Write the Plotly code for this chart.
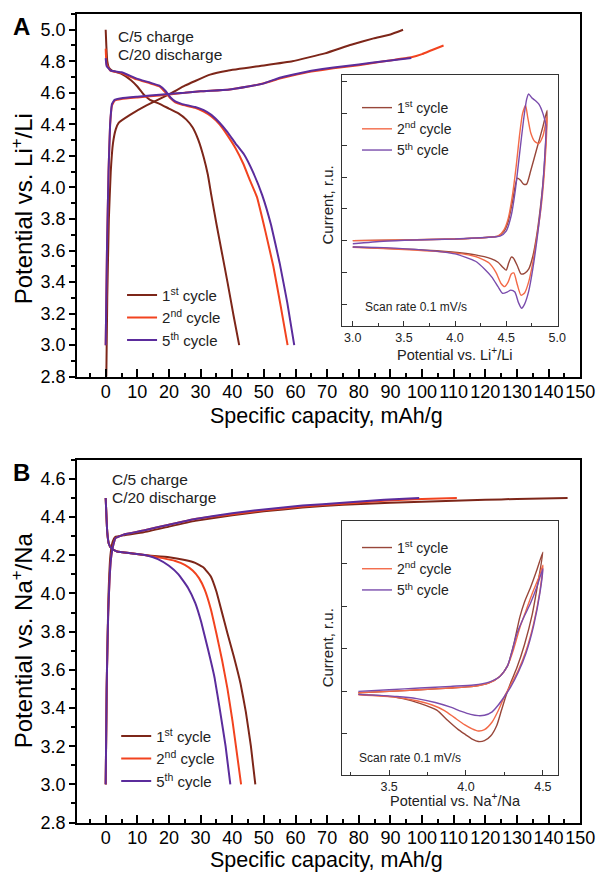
import plotly.graph_objects as go

# the page body has an 8px margin; the figure starts at (8, 8)
OFF = 8
W, H = 612 - 2 * OFF, 882 - OFF

# ---------------- Panel A (Li) galvanostatic data ----------------
li_c1_chg_x = [0.2, 0.5, 1.0, 1.6, 2.3, 3.2, 4.1, 7.7, 12.9, 20, 25, 28.3, 33, 38.5, 48.8, 59, 69.3, 77.6, 84.7, 90, 94]
li_c1_chg_y = [2.8, 3.3, 3.8, 4.1, 4.28, 4.37, 4.41, 4.46, 4.52, 4.59, 4.645, 4.675, 4.715, 4.74, 4.77, 4.80, 4.85, 4.905, 4.945, 4.97, 5.0]
li_c1_dis_x = [0, 0.2, 0.5, 1, 2, 5, 8, 10, 12, 14, 17, 20, 23, 25.5, 27.5, 29.3, 31, 32.3, 33.4, 35, 36.8, 38.5, 40.4, 42.2]
li_c1_dis_y = [5.0, 4.9, 4.8, 4.76, 4.74, 4.72, 4.68, 4.64, 4.59, 4.555, 4.53, 4.50, 4.47, 4.43, 4.38, 4.30, 4.19, 4.08, 3.95, 3.77, 3.58, 3.40, 3.19, 3.0]

li_c2_chg_x = [0, 0.4, 0.9, 1.4, 2.0, 2.8, 5, 10, 18, 25, 30, 38.6, 45, 50, 55, 59, 65, 72, 80, 88, 96.6, 100, 103, 106.8]
li_c2_chg_y = [3.0, 3.6, 4.1, 4.4, 4.52, 4.55, 4.56, 4.57, 4.585, 4.60, 4.61, 4.62, 4.64, 4.66, 4.69, 4.71, 4.735, 4.755, 4.775, 4.80, 4.825, 4.845, 4.87, 4.90]
li_c2_dis_x = [0, 0.3, 1.5, 5, 9.8, 14, 17, 19, 20.5, 22, 24, 28.3, 31, 33.4, 36, 38.5, 41, 43.5, 45.5, 47.8, 50.5, 53, 55.3, 57.5]
li_c2_dis_y = [4.88, 4.78, 4.74, 4.725, 4.685, 4.66, 4.64, 4.60, 4.565, 4.54, 4.525, 4.505, 4.48, 4.45, 4.40, 4.33, 4.25, 4.15, 4.05, 3.94, 3.72, 3.50, 3.25, 3.0]

li_c5_chg_x = [0, 0.4, 0.9, 1.4, 2.0, 2.8, 5, 10, 18, 25, 30, 38.6, 45, 50, 55, 59, 65, 72, 80, 88, 96.6]
li_c5_chg_y = [3.0, 3.6, 4.1, 4.4, 4.53, 4.555, 4.565, 4.575, 4.59, 4.60, 4.61, 4.62, 4.64, 4.66, 4.695, 4.715, 4.74, 4.76, 4.78, 4.80, 4.82]
li_c5_dis_x = [0, 0.3, 1.6, 5, 9.8, 14, 17, 19, 20.5, 22, 24, 28.3, 31, 33.4, 36, 38.5, 41, 43.7, 46.5, 49.5, 52.3, 55, 57.4, 59.6]
li_c5_dis_y = [4.82, 4.77, 4.74, 4.73, 4.69, 4.665, 4.645, 4.61, 4.57, 4.545, 4.53, 4.51, 4.49, 4.46, 4.41, 4.35, 4.28, 4.21, 4.10, 3.95, 3.76, 3.52, 3.27, 3.0]

# ---------------- Panel A inset: CV vs Li ----------------
li_cv1_v = [3.0, 3.5, 4.0, 4.3, 4.42, 4.48, 4.52, 4.56, 4.59, 4.61, 4.64, 4.67, 4.70, 4.74, 4.80, 4.86, 4.90,
            4.89, 4.87, 4.84, 4.80, 4.76, 4.72, 4.68, 4.645, 4.61, 4.57, 4.55, 4.525, 4.50, 4.47, 4.42, 4.35, 4.2, 3.97, 3.6, 3.3, 3.0]
li_cv1_i = [0.0, 0.02, 0.05, 0.1, 0.14, 0.3, 0.6, 1.2, 1.75, 1.97, 1.9, 1.78, 1.78, 2.2, 2.9, 3.6, 4.1,
            3.3, 2.2, 1.2, 0.2, -0.5, -0.9, -1.03, -1.05, -0.8, -0.55, -0.52, -0.7, -0.93, -0.85, -0.68, -0.57, -0.45, -0.36, -0.28, -0.24, -0.2]
li_cv2_v = [3.0, 3.5, 4.0, 4.3, 4.42, 4.48, 4.52, 4.56, 4.60, 4.63, 4.66, 4.69, 4.71, 4.74, 4.78, 4.82, 4.86, 4.90,
            4.89, 4.87, 4.84, 4.80, 4.76, 4.72, 4.68, 4.645, 4.61, 4.575, 4.55, 4.52, 4.485, 4.45, 4.40, 4.33, 4.2, 3.97, 3.6, 3.3, 3.0]
li_cv2_i = [0.0, 0.02, 0.05, 0.1, 0.14, 0.35, 0.7, 1.4, 2.4, 3.3, 4.0, 4.26, 3.9, 3.4, 3.12, 3.06, 3.3, 3.9,
            3.0, 2.0, 1.0, 0.1, -0.7, -1.3, -1.65, -1.72, -1.4, -1.02, -1.05, -1.3, -1.45, -1.35, -1.0, -0.7, -0.5, -0.38, -0.3, -0.25, -0.21]
li_cv5_v = [3.0, 3.3, 3.6, 4.0, 4.3, 4.44, 4.50, 4.55, 4.59, 4.63, 4.67, 4.70, 4.72, 4.75, 4.79, 4.82, 4.86, 4.89,
            4.88, 4.86, 4.83, 4.80, 4.76, 4.72, 4.68, 4.65, 4.62, 4.585, 4.545, 4.51, 4.465, 4.42, 4.36, 4.29, 4.2, 4.0, 3.7, 3.3, 3.0]
li_cv5_i = [-0.1, -0.02, 0.02, 0.05, 0.1, 0.14, 0.3, 0.8, 1.6, 2.7, 3.8, 4.45, 4.62, 4.5, 4.4, 4.3, 4.0, 3.6,
            2.8, 1.8, 0.8, 0.0, -0.9, -1.6, -2.0, -2.13, -1.95, -1.62, -1.56, -1.62, -1.66, -1.45, -1.15, -0.9, -0.65, -0.42, -0.3, -0.22, -0.2]

# ---------------- Panel B (Na) galvanostatic data ----------------
na_c1_chg_x = [0, 0.4, 0.9, 1.5, 2.2, 3, 6, 12, 20, 28.3, 40, 50, 62.2, 75, 90, 100, 110, 120, 130, 146]
na_c1_chg_y = [3.0, 3.6, 4.0, 4.2, 4.27, 4.295, 4.305, 4.32, 4.35, 4.38, 4.41, 4.43, 4.45, 4.465, 4.475, 4.48, 4.485, 4.49, 4.495, 4.50]
na_c1_dis_x = [0, 0.2, 0.5, 1.0, 1.8, 3.6, 8, 12.8, 20, 25, 28.3, 31, 33.2, 35, 36.6, 38.5, 40.5, 42.6, 44.3, 45.9, 47.3]
na_c1_dis_y = [4.5, 4.42, 4.32, 4.26, 4.235, 4.22, 4.21, 4.20, 4.19, 4.175, 4.16, 4.135, 4.09, 4.01, 3.91, 3.79, 3.67, 3.53, 3.38, 3.20, 3.0]

na_c2_chg_x = [0, 0.3, 0.8, 1.3, 1.8, 2.5, 3.1, 6, 12, 20, 28.3, 40, 50, 62.2, 75, 88, 100, 111]
na_c2_chg_y = [3.0, 3.5, 3.9, 4.1, 4.2, 4.26, 4.29, 4.31, 4.33, 4.36, 4.39, 4.415, 4.435, 4.455, 4.47, 4.485, 4.495, 4.50]
na_c2_dis_x = [0, 0.2, 0.5, 1.0, 1.8, 3.6, 8, 12.8, 18, 22, 25, 27.5, 29.5, 31.3, 33.2, 35, 36.8, 38.5, 40.1, 41.5, 42.8]
na_c2_dis_y = [4.5, 4.42, 4.32, 4.26, 4.235, 4.22, 4.21, 4.20, 4.185, 4.17, 4.15, 4.12, 4.08, 4.02, 3.92, 3.79, 3.65, 3.50, 3.33, 3.16, 3.0]

na_c5_chg_x = [0, 0.3, 0.8, 1.3, 1.8, 2.5, 3.1, 6, 12, 20, 28.3, 40, 50, 62.2, 75, 88, 99.1]
na_c5_chg_y = [3.0, 3.5, 3.9, 4.1, 4.2, 4.26, 4.29, 4.31, 4.33, 4.36, 4.39, 4.42, 4.44, 4.46, 4.475, 4.49, 4.50]
na_c5_dis_x = [0, 0.2, 0.5, 1.0, 1.8, 3.6, 8, 12.8, 16.5, 20, 23, 26, 28.3, 30.2, 32.3, 34.4, 36.2, 37.9, 39.4]
na_c5_dis_y = [4.5, 4.42, 4.32, 4.26, 4.235, 4.22, 4.21, 4.20, 4.18, 4.145, 4.10, 4.03, 3.95, 3.85, 3.71, 3.56, 3.38, 3.20, 3.0]

# ---------------- Panel B inset: CV vs Na ----------------
na_cv1_v = [3.30, 3.5, 3.7, 3.9, 4.05, 4.15, 4.22, 4.27, 4.31, 4.35, 4.38, 4.42, 4.46, 4.50,
            4.47, 4.43, 4.38, 4.33, 4.29, 4.26, 4.23, 4.20, 4.16, 4.12, 4.08, 4.04, 3.99, 3.95, 3.88, 3.81, 3.70, 3.59, 3.45, 3.30]
na_cv1_i = [-0.03, 0.0, 0.04, 0.08, 0.12, 0.2, 0.35, 0.6, 1.1, 1.75, 2.1, 2.45, 2.85, 3.28,
            2.6, 1.8, 1.1, 0.55, 0.2, -0.1, -0.45, -0.8, -1.05, -1.16, -1.18, -1.12, -1.0, -0.9, -0.68, -0.44, -0.28, -0.17, -0.1, -0.07]
na_cv2_v = [3.30, 3.5, 3.7, 3.9, 4.05, 4.15, 4.22, 4.27, 4.31, 4.35, 4.39, 4.43, 4.47, 4.50,
            4.48, 4.44, 4.39, 4.34, 4.29, 4.25, 4.21, 4.17, 4.12, 4.08, 4.04, 3.99, 3.93, 3.86, 3.78, 3.68, 3.55, 3.30]
na_cv2_i = [-0.03, 0.0, 0.04, 0.08, 0.12, 0.2, 0.35, 0.6, 1.0, 1.5, 1.9, 2.3, 2.65, 2.97,
            2.35, 1.6, 0.95, 0.5, 0.15, -0.12, -0.45, -0.72, -0.9, -0.93, -0.88, -0.78, -0.63, -0.45, -0.32, -0.22, -0.14, -0.08]
na_cv5_v = [3.30, 3.5, 3.7, 3.9, 4.05, 4.15, 4.22, 4.27, 4.30, 4.33, 4.37, 4.42, 4.46, 4.50,
            4.48, 4.44, 4.39, 4.34, 4.29, 4.25, 4.21, 4.17, 4.12, 4.08, 4.03, 3.97, 3.90, 3.80, 3.68, 3.55, 3.30]
na_cv5_i = [0.0, 0.04, 0.08, 0.12, 0.15, 0.22, 0.35, 0.6, 0.95, 1.35, 1.7, 2.08, 2.45, 2.89,
            2.3, 1.55, 0.9, 0.45, 0.1, -0.12, -0.32, -0.48, -0.56, -0.57, -0.54, -0.47, -0.37, -0.26, -0.17, -0.12, -0.07]

cycle_labels = ["1<sup>st</sup> cycle", "2<sup>nd</sup> cycle", "5<sup>th</sup> cycle"]
main_colors = ["#7d2619", "#f2431f", "#5b2c9c"]
inset_colors = ["#98473a", "#f36a48", "#7a4cac"]

FONT = "Liberation Sans, Arial, sans-serif"


def dx(px):
    return (px - OFF) / W


def dy(py):
    return 1 - (py - OFF) / H


def join(x1, y1, x2, y2):
    return list(x1) + [None] + list(x2), list(y1) + [None] + list(y2)


fig = go.Figure()

li_sets = [(li_c1_chg_x, li_c1_chg_y, li_c1_dis_x, li_c1_dis_y),
           (li_c2_chg_x, li_c2_chg_y, li_c2_dis_x, li_c2_dis_y),
           (li_c5_chg_x, li_c5_chg_y, li_c5_dis_x, li_c5_dis_y)]
na_sets = [(na_c1_chg_x, na_c1_chg_y, na_c1_dis_x, na_c1_dis_y),
           (na_c2_chg_x, na_c2_chg_y, na_c2_dis_x, na_c2_dis_y),
           (na_c5_chg_x, na_c5_chg_y, na_c5_dis_x, na_c5_dis_y)]
li_cv = [(li_cv1_v, li_cv1_i), (li_cv2_v, li_cv2_i), (li_cv5_v, li_cv5_i)]
na_cv = [(na_cv1_v, na_cv1_i), (na_cv2_v, na_cv2_i), (na_cv5_v, na_cv5_i)]

for k in range(3):
    x, y = join(*li_sets[k])
    fig.add_trace(go.Scatter(x=x, y=y, mode="lines", name=cycle_labels[k],
                             line=dict(color=main_colors[k], width=2, shape="spline", smoothing=0.3),
                             xaxis="x", yaxis="y", legend="legend"))
for k in range(3):
    v, i = li_cv[k]
    fig.add_trace(go.Scatter(x=v, y=i, mode="lines", name=cycle_labels[k],
                             line=dict(color=inset_colors[k], width=1.4, shape="spline", smoothing=0.6),
                             xaxis="x2", yaxis="y2", legend="legend2"))
for k in range(3):
    x, y = join(*na_sets[k])
    fig.add_trace(go.Scatter(x=x, y=y, mode="lines", name=cycle_labels[k],
                             line=dict(color=main_colors[k], width=2, shape="spline", smoothing=0.3),
                             xaxis="x3", yaxis="y3", legend="legend3"))
for k in range(3):
    v, i = na_cv[k]
    fig.add_trace(go.Scatter(x=v, y=i, mode="lines", name=cycle_labels[k],
                             line=dict(color=inset_colors[k], width=1.4, shape="spline", smoothing=0.6),
                             xaxis="x4", yaxis="y4", legend="legend4"))

tickfont_main = dict(family=FONT, size=18, color="black")
tickfont_inset = dict(family=FONT, size=12.5, color="#222")


def main_x(domain_y_anchor):
    return dict(domain=[dx(79), dx(595)], range=[-9, 150], anchor=domain_y_anchor,
                showline=True, linecolor="black", linewidth=2, mirror=True,
                ticks="inside", ticklen=8, tickwidth=1.5, tickcolor="black", tickangle=0,
                ticklabelstandoff=-2,
                tick0=0, dtick=10, tickfont=tickfont_main, showgrid=False, zeroline=False,
                minor=dict(ticks="inside", ticklen=4, dtick=5, tickwidth=1.5, tickcolor="black", showgrid=False))


def main_y(domain, rng, anchor):
    return dict(domain=domain, range=rng, anchor=anchor,
                showline=True, linecolor="black", linewidth=2, mirror=True,
                ticks="outside", ticklen=6, tickwidth=1.5, tickcolor="black",
                tick0=2.8, dtick=0.2, tickformat=".1f", tickfont=tickfont_main,
                showgrid=False, zeroline=False,
                minor=dict(ticks="outside", ticklen=4, dtick=0.1, tickwidth=1.5, tickcolor="black", showgrid=False))


def inset_x(domain_y_anchor, rng):
    return dict(domain=[dx(351), dx(572)], range=rng, anchor=domain_y_anchor,
                showline=True, linecolor="#333", linewidth=1, mirror=True,
                ticks="inside", ticklen=5, tickwidth=1, tickcolor="#333", tickangle=0,
                tick0=3.0, dtick=0.5, tickformat=".1f", tickfont=tickfont_inset,
                showgrid=False, zeroline=False,
                minor=dict(ticks="inside", ticklen=3, dtick=0.25, tickwidth=1, tickcolor="#333", showgrid=False))


def inset_y(domain, rng, anchor):
    return dict(domain=domain, range=rng, anchor=anchor,
                showline=True, linecolor="#333", linewidth=1, mirror=True,
                ticks="inside", ticklen=5, tickwidth=1, tickcolor="#333",
                tick0=0, dtick=1, showticklabels=False, showgrid=False, zeroline=False)


legend_common = dict(xanchor="left", yanchor="top", bgcolor="rgba(0,0,0,0)",
                     tracegroupgap=0, itemclick=False)

fig.update_layout(
    width=W, height=H, autosize=False,
    margin=dict(l=0, r=0, t=0, b=0),
    paper_bgcolor="white", plot_bgcolor="rgba(0,0,0,0)",
    font=dict(family=FONT, color="black"),
    xaxis=main_x("y"),
    yaxis=main_y([dy(381), dy(14)], [2.8, 5.1], "x"),
    xaxis2=inset_x("y2", [2.898, 5.005]),
    yaxis2=inset_y([dy(330), dy(76)], [-2.70, 5.21], "x2"),
    xaxis3=main_x("y3"),
    yaxis3=main_y([dy(832), dy(465)], [2.8, 4.7], "x3"),
    xaxis4=inset_x("y4", [3.196, 4.597]),
    yaxis4=inset_y([dy(784), dy(527)], [-1.97, 4.01], "x4"),
    legend=dict(x=dx(125), y=dy(282), font=dict(family=FONT, size=15, color="#222"), **legend_common),
    legend2=dict(x=dx(366), y=dy(93), font=dict(family=FONT, size=14, color="#222"), **legend_common),
    legend3=dict(x=dx(119), y=dy(728), font=dict(family=FONT, size=15, color="#222"), **legend_common),
    legend4=dict(x=dx(366), y=dy(538), font=dict(family=FONT, size=14, color="#222"), **legend_common),
    showlegend=True,
)


def ann(text, px, py, size, xanchor="left", yanchor="middle", angle=0, bold=False, color="#222"):
    t = f"<b>{text}</b>" if bold else text
    fig.add_annotation(text=t, x=dx(px), y=dy(py), xref="paper", yref="paper",
                       xanchor=xanchor, yanchor=yanchor, showarrow=False, textangle=angle,
                       font=dict(family=FONT, size=size, color=color))


# panel letters
ann("A", 11, 27, 24, bold=True, color="black")
ann("B", 11, 478, 24, bold=True, color="black")
# rate notes
ann("C/5 charge", 119, 37, 15.5)
ann("C/20 discharge", 119, 55, 15.5)
ann("C/5 charge", 113, 485, 15.5)
ann("C/20 discharge", 113, 503, 15.5)
# axis titles (main)
ann("Potential vs. Li<sup>+</sup>/Li", 22, 211, 24, xanchor="center", angle=-90, color="black")
ann("Potential vs. Na<sup>+</sup>/Na", 22, 648, 24, xanchor="center", angle=-90, color="black")
ann("Specific capacity, mAh/g", 335, 421, 21.5, xanchor="center", color="black")
ann("Specific capacity, mAh/g", 335, 870, 21.5, xanchor="center", color="black")
# inset titles
ann("Potential vs. Li<sup>+</sup>/Li", 467, 358, 14.5, xanchor="center")
ann("Potential vs. Na<sup>+</sup>/Na", 467, 809, 14.5, xanchor="center")
ann("Current, r.u.", 336, 207, 15, xanchor="center", angle=-90)
ann("Current, r.u.", 336, 655, 15, xanchor="center", angle=-90)
ann("Scan rate 0.1 mV/s", 372, 310, 12)
ann("Scan rate 0.1 mV/s", 366, 767, 12)

fig.write_html("out.html")
